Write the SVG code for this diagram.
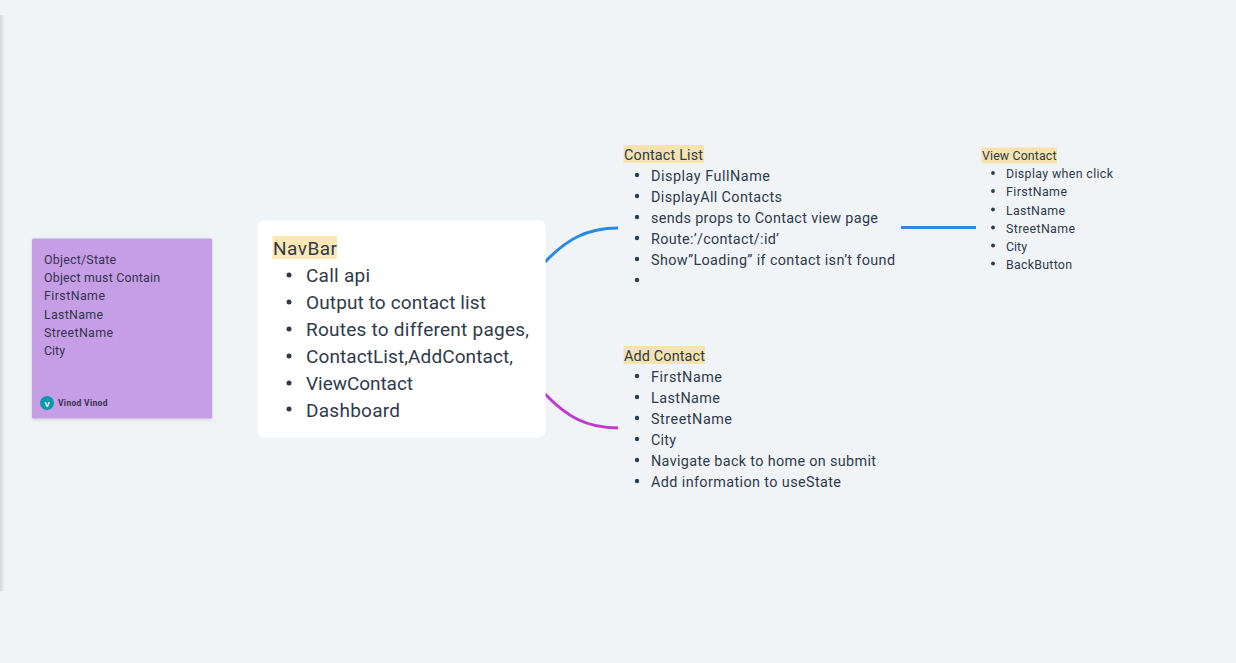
<svg xmlns="http://www.w3.org/2000/svg" width="1236" height="663" viewBox="0 0 1236 663">
<style>
text{font-family:Roboto,"Noto Sans",sans-serif;fill:#2f3a4a}
.a{font-size:19px}
.b{font-size:14.4px}
.c{font-size:12.4px}
.s{font-size:12.4px;fill:#35334f}
.h{fill:#fbe8b4}
.h2{fill:#f4e3ae}
.e{fill:none;stroke-width:3;stroke-linecap:butt}
.d{fill:#2f3a4a}
</style>
<defs>
<filter id="sh" x="-10%" y="-10%" width="120%" height="120%"><feDropShadow dx="0" dy="1" stdDeviation="1.5" flood-color="#000" flood-opacity=".16"/></filter>
<linearGradient id="lg"><stop offset="0" stop-color="#d3d8dc"/><stop offset="1" stop-color="#f0f4f7"/></linearGradient>
</defs>
<rect width="1236" height="663" fill="#f0f4f7"/>
<rect x="0" y="15" width="5" height="576" fill="url(#lg)"/>
<g id="connectors">
<path class="e" stroke="#2b8ae0" d="M545 262C566 240 586 228 618 228"/>
<path class="e" stroke="#bf38d0" d="M545 394C566 416 586 428 618 428"/>
<path class="e" stroke="#2b8ae0" d="M901 227.500H976"/>
</g>
<g id="sticky">
<rect x="32" y="238.500" width="180" height="180" rx="1.500" fill="#c69ee6" filter="url(#sh)"/>
<text class="s" x="44" y="264" textLength="72">Object/State</text>
<text class="s" x="44" y="282" textLength="116">Object must Contain</text>
<text class="s" x="44" y="300" textLength="61">FirstName</text>
<text class="s" x="44" y="319" textLength="59">LastName</text>
<text class="s" x="44" y="337" textLength="69">StreetName</text>
<text class="s" x="44" y="355" textLength="21">City</text>
<circle cx="47" cy="403" r="7" fill="#0a97a8"/>
<text x="47" y="406.500" text-anchor="middle" style="font-size:8px;font-weight:700;fill:#fff">V</text>
<text x="58" y="406" textLength="49.500" style="font-size:8.500px;font-weight:700;fill:#35334f">Vinod Vinod</text>
</g>
<g id="navbar">
<rect x="257.500" y="220.500" width="288" height="217" rx="6" fill="#fff"/>
<rect x="272.500" y="236" width="64.500" height="23" class="h"/>
<text class="a" x="273" y="255" textLength="64">NavBar</text>
<g class="d"><circle cx="289" cy="275" r="2.500"/><circle cx="289" cy="302" r="2.500"/><circle cx="289" cy="329" r="2.500"/><circle cx="289" cy="356" r="2.500"/><circle cx="289" cy="383" r="2.500"/><circle cx="289" cy="409" r="2.500"/></g>
<text class="a" x="306" y="282" textLength="64">Call api</text>
<text class="a" x="306" y="309" textLength="180">Output to contact list</text>
<text class="a" x="306" y="336" textLength="223">Routes to different pages,</text>
<text class="a" x="306" y="363" textLength="207">ContactList,AddContact,</text>
<text class="a" x="306" y="390" textLength="107">ViewContact</text>
<text class="a" x="306" y="417" textLength="94">Dashboard</text>
</g>
<g id="contact-list">
<rect x="623.500" y="145" width="80.500" height="18" class="h2"/>
<text class="b" x="624" y="160" textLength="79">Contact List</text>
<g class="d"><circle cx="637" cy="175" r="2.200"/><circle cx="637" cy="196" r="2.200"/><circle cx="637" cy="217" r="2.200"/><circle cx="637" cy="238" r="2.200"/><circle cx="637" cy="259" r="2.200"/><circle cx="637" cy="280" r="2.200"/></g>
<text class="b" x="651" y="181" textLength="119">Display FullName</text>
<text class="b" x="651" y="202" textLength="131">DisplayAll Contacts</text>
<text class="b" x="651" y="223" textLength="227">sends props to Contact view page</text>
<text class="b" x="651" y="244" textLength="128">Route:’/contact/:id’</text>
<text class="b" x="651" y="265" textLength="244">Show”Loading” if contact isn’t found</text>
</g>
<g id="add-contact">
<rect x="623.500" y="346" width="81.500" height="18" class="h2"/>
<text class="b" x="624" y="361" textLength="81">Add Contact</text>
<g class="d"><circle cx="637" cy="376" r="2.200"/><circle cx="637" cy="397" r="2.200"/><circle cx="637" cy="418" r="2.200"/><circle cx="637" cy="439" r="2.200"/><circle cx="637" cy="460" r="2.200"/><circle cx="637" cy="481" r="2.200"/></g>
<text class="b" x="651" y="382" textLength="71">FirstName</text>
<text class="b" x="651" y="403" textLength="69">LastName</text>
<text class="b" x="651" y="424" textLength="81">StreetName</text>
<text class="b" x="651" y="445" textLength="25">City</text>
<text class="b" x="651" y="466" textLength="225">Navigate back to home on submit</text>
<text class="b" x="651" y="487" textLength="190">Add information to useState</text>
</g>
<g id="view-contact">
<rect x="981.500" y="147.500" width="75.500" height="16" class="h2"/>
<text class="c" x="982" y="160" textLength="74.500">View Contact</text>
<g class="d"><circle cx="993" cy="173" r="1.900"/><circle cx="993" cy="191" r="1.900"/><circle cx="993" cy="209.500" r="1.900"/><circle cx="993" cy="227.500" r="1.900"/><circle cx="993" cy="245.500" r="1.900"/><circle cx="993" cy="263.500" r="1.900"/></g>
<text class="c" x="1006" y="178" textLength="107">Display when click</text>
<text class="c" x="1006" y="196" textLength="61">FirstName</text>
<text class="c" x="1006" y="215" textLength="59">LastName</text>
<text class="c" x="1006" y="233" textLength="69">StreetName</text>
<text class="c" x="1006" y="251" textLength="21">City</text>
<text class="c" x="1006" y="269" textLength="66">BackButton</text>
</g>
</svg>
